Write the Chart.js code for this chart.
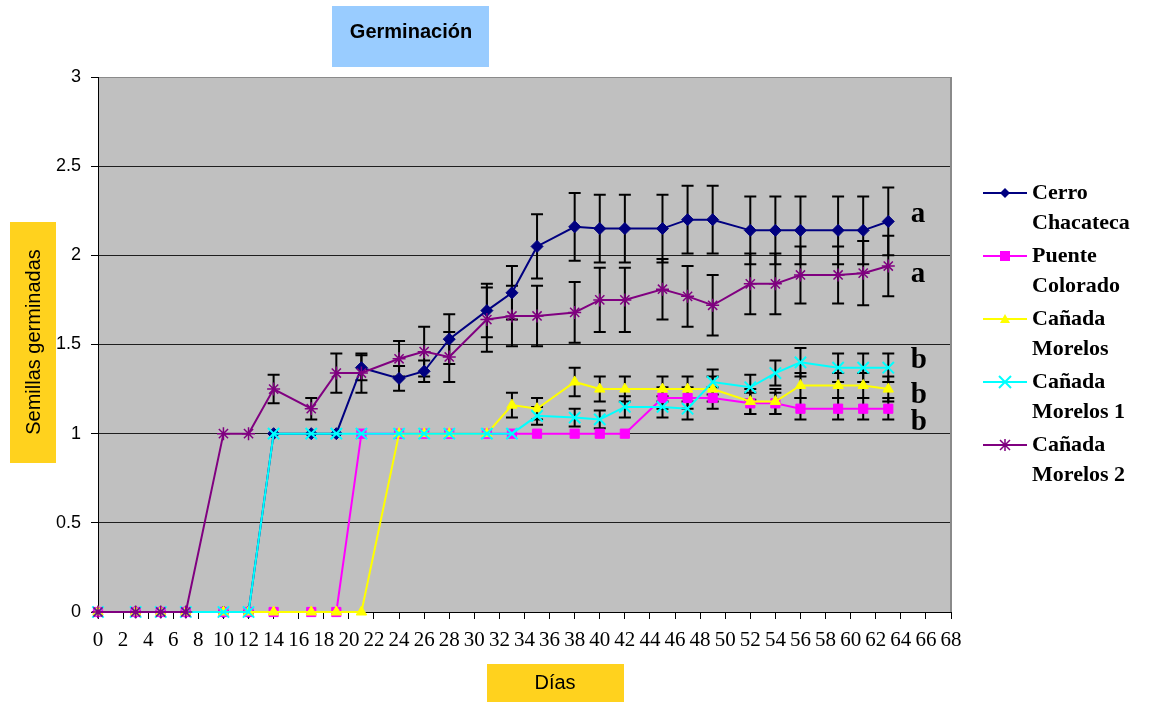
<!DOCTYPE html>
<html><head><meta charset="utf-8">
<script src="https://cdn.jsdelivr.net/npm/chart.js@4.4.1/dist/chart.umd.min.js"></script>
<style>html,body{margin:0;padding:0;background:#fff}#wrap{width:1149px;height:702px;position:relative}</style>
</head><body><div id="wrap"><canvas id="c" width="1149" height="702"></canvas></div>
<script>
// ---- data ----
const days = [0,3,5,7,10,12,14,17,19,21,24,26,28,31,33,35,38,40,42,45,47,49,52,54,56,59,61,63];
const seriesNames = ['Cerro Chacateca','Puente Colorado','Cañada Morelos','Cañada Morelos 1','Cañada Morelos 2'];
const cerroChacateca   = [0,0,0,0,0,0,1,1,1,1.37,1.31,1.35,1.53,1.69,1.79,2.05,2.16,2.15,2.15,2.15,2.20,2.20,2.14,2.14,2.14,2.14,2.14,2.19];
const cerroChacatecaErr= [0,0,0,0,0,0,0,0,0,0.07,0.07,0.06,0.14,0.15,0.15,0.18,0.19,0.19,0.19,0.19,0.19,0.19,0.19,0.19,0.19,0.19,0.19,0.19];
const puenteColorado   = [0,0,0,0,0,0,0,0,0,1,1,1,1,1,1,1,1,1,1,1.20,1.20,1.20,1.17,1.17,1.14,1.14,1.14,1.14];
const puenteColoradoErr= [0,0,0,0,0,0,0,0,0,0,0,0,0,0,0,0,0,0,0,0.06,0.06,0.06,0.06,0.06,0.06,0.06,0.06,0.06];
const canadaMorelos    = [0,0,0,0,0,0,0,0,0,0,1,1,1,1,1.16,1.14,1.29,1.25,1.25,1.25,1.25,1.25,1.18,1.18,1.27,1.27,1.27,1.25];
const canadaMorelosErr = [0,0,0,0,0,0,0,0,0,0,0,0,0,0,0.07,0.06,0.08,0.07,0.07,0.07,0.07,0.07,0.07,0.07,0.07,0.07,0.07,0.07];
const canadaMorelos1   = [0,0,0,0,0,0,1,1,1,1,1,1,1,1,1,1.10,1.09,1.08,1.15,1.15,1.14,1.29,1.26,1.34,1.40,1.37,1.37,1.37];
const canadaMorelos1Err= [0,0,0,0,0,0,0,0,0,0,0,0,0,0,0,0.05,0.05,0.05,0.06,0.06,0.06,0.07,0.07,0.07,0.08,0.08,0.08,0.08];
const canadaMorelos2   = [0,0,0,0,1,1,1.25,1.14,1.34,1.34,1.42,1.46,1.43,1.64,1.66,1.66,1.68,1.75,1.75,1.81,1.77,1.72,1.84,1.84,1.89,1.89,1.90,1.94];
const canadaMorelos2Err= [0,0,0,0,0,0,0.08,0.06,0.11,0.11,0.10,0.14,0.14,0.18,0.17,0.17,0.17,0.18,0.18,0.17,0.17,0.17,0.17,0.17,0.16,0.16,0.18,0.17];
const groupLetters = ['a','a','b','b','b'];

// ---- presentation ----
const chartTitle = 'Germinación';
const yTitle = 'Semillas germinadas';
const xTitle = 'Días';
const letterAnchors = {day: 64.8, values: [2.185,1.848,1.371,1.174,1.022]};
const styles = [
  {color:'#000080', point:'rectRot', r:6, bw:1},
  {color:'#FF00FF', point:'rect', r:6.5, bw:1},
  {color:'#FFFF00', point:'triangle', r:6, bw:1},
  {color:'#00FFFF', point:'crossRot', r:8, bw:2},
  {color:'#800080', point:'star', r:6.5, bw:1.5}
];
const seriesValues = [cerroChacateca, puenteColorado, canadaMorelos, canadaMorelos1, canadaMorelos2];
const seriesErrors = [cerroChacatecaErr, puenteColoradoErr, canadaMorelosErr, canadaMorelos1Err, canadaMorelos2Err];

const datasets = seriesNames.map((name,i)=>({
  label: name,
  data: days.map((d,j)=>({x:d, y:seriesValues[i][j]})),
  errors: seriesErrors[i],
  borderColor: styles[i].color,
  backgroundColor: styles[i].color,
  pointBackgroundColor: styles[i].color,
  pointBorderColor: styles[i].color,
  pointStyle: styles[i].point,
  pointRadius: styles[i].r,
  pointHoverRadius: styles[i].r,
  pointBorderWidth: styles[i].bw,
  borderWidth: 2,
  tension: 0,
  clip: false,
  order: 5 - i
}));

function drawMarker(ctx, style, x, y, color, r){
  ctx.save();
  ctx.fillStyle = color; ctx.strokeStyle = color; ctx.lineWidth = 2;
  ctx.beginPath();
  if(style==='rectRot'){ctx.moveTo(x,y-r);ctx.lineTo(x+r,y);ctx.lineTo(x,y+r);ctx.lineTo(x-r,y);ctx.closePath();ctx.fill();}
  else if(style==='rect'){ctx.fillRect(x-r,y-r,2*r,2*r);}
  else if(style==='triangle'){ctx.moveTo(x,y-r);ctx.lineTo(x+r,y+r*0.8);ctx.lineTo(x-r,y+r*0.8);ctx.closePath();ctx.fill();}
  else if(style==='crossRot'){ctx.moveTo(x-r,y-r);ctx.lineTo(x+r,y+r);ctx.moveTo(x+r,y-r);ctx.lineTo(x-r,y+r);ctx.stroke();}
  else if(style==='star'){ctx.lineWidth=1.5;ctx.moveTo(x-r,y-r);ctx.lineTo(x+r,y+r);ctx.moveTo(x+r,y-r);ctx.lineTo(x-r,y+r);ctx.moveTo(x,y-r*1.2);ctx.lineTo(x,y+r*1.2);ctx.stroke();}
  ctx.restore();
}

const decor = {
  id:'decor',
  beforeDraw(chart){
    const {ctx, chartArea:a} = chart;
    ctx.save();
    ctx.fillStyle = '#C0C0C0';
    ctx.fillRect(a.left, a.top, a.right-a.left, a.bottom-a.top);
    ctx.restore();
  },
  beforeDatasetsDraw(chart){
    const {ctx} = chart; const xs = chart.scales.x, ys = chart.scales.y;
    ctx.save();
    ctx.strokeStyle = '#000'; ctx.lineWidth = 2;
    chart.data.datasets.forEach(ds=>{
      ds.data.forEach((p,j)=>{
        const e = ds.errors[j]; if(!e) return;
        const x = xs.getPixelForValue(p.x);
        const yt = ys.getPixelForValue(p.y+e), yb = ys.getPixelForValue(p.y-e);
        ctx.beginPath();
        ctx.moveTo(x,yt); ctx.lineTo(x,yb);
        ctx.moveTo(x-6,yt); ctx.lineTo(x+6,yt);
        ctx.moveTo(x-6,yb); ctx.lineTo(x+6,yb);
        ctx.stroke();
      });
    });
    ctx.restore();
  },
  afterDraw(chart){
    const {ctx, chartArea:a} = chart; const xs = chart.scales.x, ys = chart.scales.y;
    ctx.save();
    // right border
    ctx.strokeStyle = '#8a8a8a'; ctx.lineWidth = 2;
    ctx.beginPath(); ctx.moveTo(a.right, a.top); ctx.lineTo(a.right, a.bottom); ctx.stroke();
    // title box
    ctx.fillStyle = '#99CCFF'; ctx.fillRect(332, 6, 157, 61);
    ctx.fillStyle = '#000'; ctx.font = 'bold 20px "Liberation Sans", Arial, sans-serif';
    ctx.textAlign = 'center'; ctx.textBaseline = 'alphabetic';
    ctx.fillText(chartTitle, 411, 38);
    // y title box
    ctx.fillStyle = '#FFD21E'; ctx.fillRect(10, 222, 46, 241);
    ctx.save(); ctx.translate(34, 342); ctx.rotate(-Math.PI/2);
    ctx.fillStyle = '#000'; ctx.font = '20px "Liberation Sans", Arial, sans-serif';
    ctx.textAlign = 'center'; ctx.textBaseline = 'middle';
    ctx.fillText(yTitle, 0, 0); ctx.restore();
    // x title box
    ctx.fillStyle = '#FFD21E'; ctx.fillRect(487, 664, 137, 38);
    ctx.fillStyle = '#000'; ctx.font = '20px "Liberation Sans", Arial, sans-serif';
    ctx.textAlign = 'center'; ctx.textBaseline = 'middle';
    ctx.fillText(xTitle, 555, 683);
    // group letters
    ctx.font = 'bold 29px "Liberation Serif", "Times New Roman", serif';
    ctx.textAlign = 'left'; ctx.textBaseline = 'alphabetic';
    groupLetters.forEach((l,i)=>{
      ctx.fillText(l, xs.getPixelForValue(letterAnchors.day), ys.getPixelForValue(letterAnchors.values[i]));
    });
    // legend
    ctx.font = 'bold 22px "Liberation Serif", "Times New Roman", serif';
    ctx.textBaseline = 'middle'; ctx.textAlign = 'left';
    seriesNames.forEach((name,i)=>{
      const y = 193 + i*63;
      const st = styles[i];
      ctx.strokeStyle = st.color; ctx.lineWidth = 2;
      ctx.beginPath(); ctx.moveTo(983, y); ctx.lineTo(1027, y); ctx.stroke();
      drawMarker(ctx, st.point, 1005, y, st.color, st.point==='crossRot'?6:5);
      const k = name.indexOf(' ');
      const lines = [name.slice(0,k), name.slice(k+1)];
      ctx.fillStyle = '#000';
      ctx.fillText(lines[0], 1032, y);
      ctx.fillText(lines[1], 1032, y+30);
    });
    ctx.restore();
  }
};

new Chart(document.getElementById('c'), {
  type:'line',
  data:{datasets},
  options:{
    responsive:false, animation:false, locale:'en-US',
    layout:{padding:{left:0, right:198, top:77, bottom:0}},
    plugins:{legend:{display:false}, title:{display:false}, tooltip:{enabled:false}},
    scales:{
      x:{type:'linear', min:0, max:68,
        ticks:{stepSize:2, autoSkip:false, maxRotation:0, color:'#000', padding:9,
          font:{family:'"Liberation Serif", "Times New Roman", serif', size:21}},
        grid:{drawOnChartArea:false, drawTicks:true, tickLength:7, tickColor:'#000'},
        border:{color:'#000', width:1},
        afterFit(s){ s.height = 90; }
      },
      y:{min:0, max:3,
        ticks:{stepSize:0.5, color:'#000', padding:10,
          callback:(v)=> String(Math.round(v*10)/10),
          font:{family:'"Liberation Sans", Arial, sans-serif', size:18}},
        grid:{color:(c)=> (c.tick && c.tick.value===3) ? '#8a8a8a' : '#1e1e1e', lineWidth:1, tickLength:7, tickColor:'#000'},
        border:{color:'#000', width:1},
        afterFit(s){ s.width = 98; }
      }
    }
  },
  plugins:[decor]
});
</script>
</body></html>
